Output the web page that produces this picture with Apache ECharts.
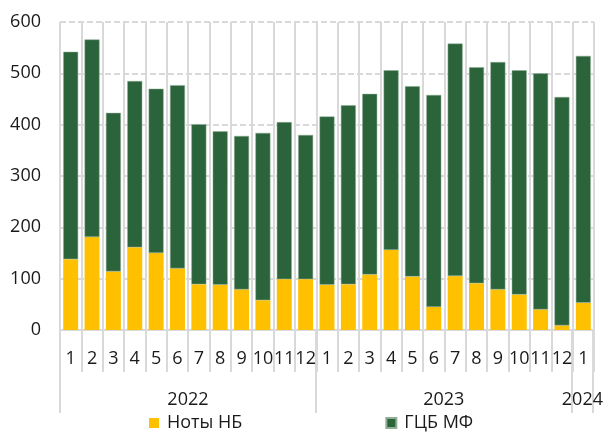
<!DOCTYPE html>
<html><head><meta charset="utf-8">
<script src="https://cdn.jsdelivr.net/npm/echarts@6/dist/echarts.min.js"></script>
<style>html,body{margin:0;padding:0;background:#fff}#c{width:606px;height:432px}</style>
</head><body><div id="c"></div>
<script>
const months = ['1','2','3','4','5','6','7','8','9','10','11','12','1','2','3','4','5','6','7','8','9','10','11','12','1'];
const years = ['2022','2023','2024'];
const yearSizes = [12,12,1];
const notesNB = [138,181,114,161,150,120,89,88,79,58,99,99,88,89,108,156,104,45,105,91,79,69,40,9,53];
const gcbMF = [404,385,309,324,320,357,312,299,299,326,306,281,328,349,352,350,371,413,453,421,443,437,460,445,481];
const seriesNames = ['Ноты НБ','ГЦБ МФ'];
const yTicks = {min:0,max:600,interval:100};

// group boundaries and centers for the year level
const bounds=[0]; yearSizes.forEach(s=>bounds.push(bounds[bounds.length-1]+s));
const centers = yearSizes.map((s,i)=>bounds[i]+s/2);

const FONT = 'Open Sans';
const grid = {left:60,right:12,top:22,bottom:102};
const chart = echarts.init(document.getElementById('c'),null,{renderer:'canvas'});
chart.setOption({
  animation:false,
  textStyle:{fontFamily:FONT},
  grid:[Object.assign({},grid),Object.assign({},grid)],
  legend:{
    data:seriesNames, left:149, top:414, padding:0, itemGap:143, itemWidth:10, itemHeight:10, icon:'rect',
    textStyle:{fontFamily:FONT,fontSize:18,color:'#1a1a1a',padding:[0,0,0,3]}
  },
  xAxis:[{
    type:'category', data:months, gridIndex:0, boundaryGap:true,
    axisLine:{show:true,lineStyle:{color:'#d9d9d9',width:2}},
    axisTick:{show:true,interval:0,length:42,lineStyle:{color:'#d9d9d9',width:2}},
    axisLabel:{interval:0,margin:20,fontFamily:FONT,fontSize:18,color:'#1a1a1a'},
    splitLine:{show:true,interval:0,lineStyle:{color:'#d9d9d9',width:2}}
  },{
    type:'value', gridIndex:1, min:0, max:bounds[bounds.length-1],
    axisLine:{show:false},
    axisTick:{show:true,customValues:bounds,length:83,lineStyle:{color:'#d9d9d9',width:2}},
    axisLabel:{show:true,customValues:centers,margin:61,fontFamily:FONT,fontSize:18,color:'#1a1a1a',
      formatter:(v)=>{const i=centers.findIndex(c=>Math.abs(c-v)<1e-6);return i>=0?years[i]:'';}},
    splitLine:{show:false}
  }],
  yAxis:[{
    type:'value', gridIndex:0, min:yTicks.min, max:yTicks.max, interval:yTicks.interval,
    axisLine:{show:false}, axisTick:{show:false},
    axisLabel:{margin:19,fontFamily:FONT,fontSize:18,color:'#1a1a1a'},
    splitLine:{show:true,lineStyle:{color:'#d9d9d9',width:2,type:[6,3]}}
  },{
    type:'value', gridIndex:1, min:0, max:1, show:false
  }],
  series:[{
    name:seriesNames[0], type:'bar', stack:'a', data:notesNB, barWidth:'70%',
    itemStyle:{color:'#FFC000'}
  },{
    name:seriesNames[1], type:'bar', stack:'a', data:gcbMF, barWidth:'70%',
    itemStyle:{color:'#2B633A',borderColor:'#8fae95',borderWidth:0.5}
  }]
});
</script></body></html>
